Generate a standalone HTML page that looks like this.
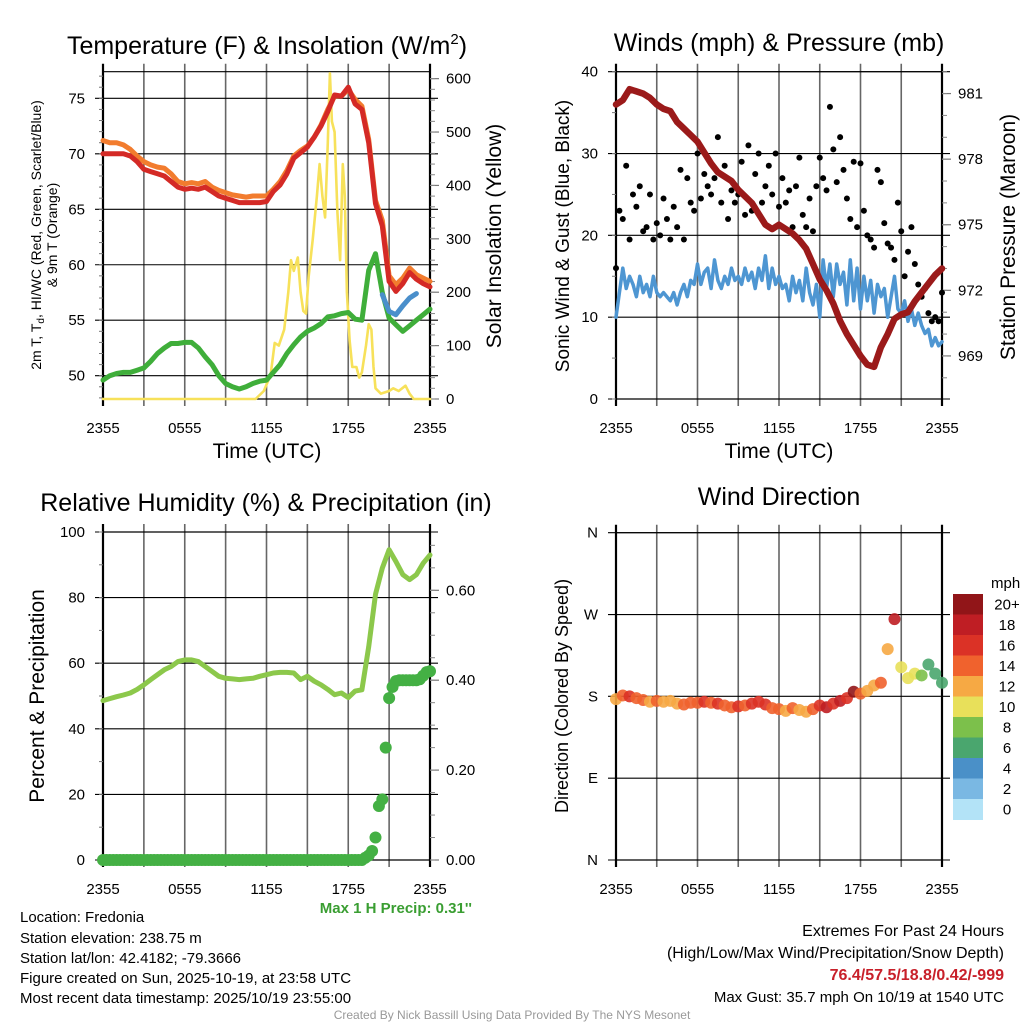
<!DOCTYPE html>
<html><head><meta charset="utf-8"><style>
html,body{margin:0;padding:0;background:#fff;}
svg{display:block;font-family:"Liberation Sans",sans-serif;}
</style></head><body>
<svg id="c" width="1024" height="1024" viewBox="0 0 1024 1024" xmlns="http://www.w3.org/2000/svg">
<rect width="1024" height="1024" fill="#fff"/>
<text x="267" y="54" font-size="25" text-anchor="middle">Temperature (F) &amp; Insolation (W/m<tspan dy="-10" font-size="15">2</tspan><tspan dy="10">)</tspan></text>
<text x="779" y="51" font-size="25" text-anchor="middle">Winds (mph) &amp; Pressure (mb)</text>
<text x="266" y="511" font-size="25" text-anchor="middle">Relative Humidity (%) &amp; Precipitation (in)</text>
<text x="779" y="505" font-size="25" text-anchor="middle">Wind Direction</text>
<text transform="translate(41,235) rotate(-90)" font-size="14" text-anchor="middle">2m T, T<tspan dy="3" font-size="10">d</tspan><tspan dy="-3">, HI/WC (Red, Green, Scarlet/Blue)</tspan></text>
<text transform="translate(57,235) rotate(-90)" font-size="14" text-anchor="middle">&amp; 9m T (Orange)</text>
<text transform="translate(501,236) rotate(-90)" font-size="21" text-anchor="middle">Solar Insolation (Yellow)</text>
<text x="267" y="458" font-size="21" text-anchor="middle">Time (UTC)</text>
<text x="779" y="458" font-size="21" text-anchor="middle">Time (UTC)</text>
<text transform="translate(569,236) rotate(-90)" font-size="19" text-anchor="middle">Sonic Wind &amp; Gust (Blue, Black)</text>
<text transform="translate(1015,237) rotate(-90)" font-size="21" text-anchor="middle">Station Pressure (Maroon)</text>
<text transform="translate(44,696) rotate(-90)" font-size="21" text-anchor="middle">Percent &amp; Precipitation</text>
<text transform="translate(568,696) rotate(-90)" font-size="18" text-anchor="middle">Direction (Colored By Speed)</text>
<text x="472" y="913" font-size="15" font-weight="bold" fill="#3a9e32" text-anchor="end">Max 1 H Precip: 0.31''</text>
<g font-size="15">
<text x="20" y="922">Location: Fredonia</text>
<text x="20" y="943">Station elevation: 238.75 m</text>
<text x="20" y="963">Station lat/lon: 42.4182; -79.3666</text>
<text x="20" y="983">Figure created on Sun, 2025-10-19, at 23:58 UTC</text>
<text x="20" y="1003">Most recent data timestamp: 2025/10/19 23:55:00</text>
</g>
<g font-size="16" text-anchor="end">
<text x="1004" y="936">Extremes For Past 24 Hours</text>
<text x="1004" y="958">(High/Low/Max Wind/Precipitation/Snow Depth)</text>
<text x="1004" y="980" font-weight="bold" fill="#c8202a">76.4/57.5/18.8/0.42/-999</text>
<text x="1004" y="1002" font-size="15">Max Gust: 35.7 mph On 10/19 at 1540 UTC</text>
</g>
<text x="512" y="1019" font-size="12" fill="#999" text-anchor="middle">Created By Nick Bassill Using Data Provided By The NYS Mesonet</text>
</svg>
<script>
// ---- data (30-min steps from 2355 UTC, hours 0..24) ----
const tempRed = [70,70,70,70,69.8,69.3,68.6,68.4,68.2,68,67.5,67,66.8,66.9,66.8,67,66.6,66.2,66,65.8,65.6,65.6,65.6,65.6,65.7,66.6,67.2,68.2,69.6,70.1,70.6,71.5,72.5,73.8,75.3,75.2,76,74.5,74,71,65.5,63.5,58.5,57.6,58.3,59.3,58.7,58.3,58];
const tempOrange = [71.2,71,71,70.8,70.4,69.8,69.3,69,68.8,68.7,68.2,67.5,67.3,67.4,67.3,67.5,67,66.7,66.5,66.3,66.2,66.1,66.2,66.2,66.2,66.8,67.5,68.5,69.8,70.3,70.7,71.5,72.6,74,75.2,75.2,75.8,74.9,74.3,71.3,65.8,64,59,58.2,58.8,59.7,59.1,58.8,58.5];
const dewGreen = [49.6,50,50.2,50.3,50.3,50.5,50.7,51.3,52,52.5,52.9,52.9,53,53,52.5,51.7,51,50,49.3,49,48.8,49,49.3,49.5,49.6,50.3,51,52,52.8,53.5,54,54.3,54.7,55.3,55.4,55.6,55.7,55.1,55,59.5,61,57.5,55.2,54.6,54,54.5,55,55.5,56];
const windChillBlue = [null,null,null,null,null,null,null,null,null,null,null,null,null,null,null,null,null,null,null,null,null,null,null,null,null,null,null,null,null,null,null,null,null,null,null,null,null,null,null,null,null,57.3,55.8,55.5,56.3,57,57.4,null,null];
const solarHours = [0,11.2,11.8,12.3,12.6,12.9,13.3,13.6,13.8,14.0,14.3,14.5,14.7,14.9,15.1,15.4,15.7,15.9,16.1,16.3,16.5,16.65,16.8,17.0,17.2,17.4,17.6,17.75,17.9,18.1,18.3,18.6,18.8,19.0,19.3,19.5,19.7,19.85,20.0,20.4,21.0,21.3,21.7,22.2,22.5,22.8,24];
const solarValues = [0,0,15,45,105,100,130,200,260,240,265,200,165,160,230,300,380,440,380,340,480,610,520,500,350,260,440,380,200,110,60,60,40,50,100,140,130,60,20,10,15,20,15,25,10,0,0];
// sonic wind every 15 min
const windSpeed = [10,13,16,13.5,15,14,12.5,15,13,14,12.5,15,
13,12.5,13,12.5,12,13,11.5,13,14,12.5,14.5,14,
16.5,14,15.5,16,13.5,17,14.5,13.5,15,14,16,14.5,
15,14,16,14.5,15.5,13.5,16,14.5,17.5,13.5,16,14,
15,13.5,14,12,15,13,14.5,12,16,13,11.5,14,
10,17,13.5,16.5,12.5,16.5,14,15.5,11.5,17,12,16,
11,15,12,14.5,10.5,14,12.5,13.5,10,12.5,15,11,
10.5,12,9.5,11,9,10.5,9,8,8.5,6.5,7.5,6.5,7];
const pressure = [980.5,980.7,981.2,981.1,981.0,980.8,980.5,980.3,980.2,979.7,979.4,979.1,978.8,978.3,977.8,977.4,977.2,977.0,976.6,976.3,976.0,975.5,975.0,974.8,975.0,974.8,974.6,974.3,973.9,973.2,972.5,972.0,971.4,970.6,970.0,969.5,969.0,968.6,968.5,969.4,970.0,970.7,970.9,971.0,971.5,971.9,972.3,972.7,973.0];
// gusts every 15 min
const gusts = [16,23,22,28.5,19.5,25,23.5,26,20.5,21,25,19.5,
21.5,20,24.5,22,19.5,23.5,21,28,19.5,27,24,23,
30,24.5,27.5,26,25,27,32,24,28.5,22,25.5,24,
25,29,22.5,31,23,27.5,30,24,26,28.5,25,30,
23.5,27,24,25.5,21,26,29.5,22.5,21,24.5,20.5,26,
29.5,27,25.5,35.7,30.5,26.5,32,28,24.5,22,29,21,
28.8,23,20,19.5,18.5,28,26.5,21.5,19,18.5,17,24,
20.5,15,18,21,16.5,14,12.5,13.5,10.5,9.5,10,9.5,13];
const humidity = [48.6,49.2,49.8,50.3,50.9,52,53.4,55,56.5,58,59,60.5,61,61,60.5,59,57.5,56,55.4,55.2,55,55.2,55.4,56,56.5,57,57.2,57.2,57,55,56,54.5,53.4,52,50.4,50.9,49.5,51.5,51.9,65,81,89,94.6,91,87,85.5,87,90.5,93];
// cumulative precip every 15 min
const precip = [0,0,0,0,0,0,0,0,0,0,0,0,0,0,0,0,0,0,0,0,0,0,0,0,0,0,0,0,0,0,0,0,0,0,0,0,0,0,0,0,0,0,0,0,0,0,0,0,0,0,0,0,0,0,0,0,0,0,0,0,0,0,0,0,0,0,0,0,0,0,0,0,0,0,0,0,0,
0.005,0.01,0.02,0.05,0.12,0.135,0.25,0.36,0.385,0.398,0.40,0.40,0.40,0.40,0.40,0.40,0.402,0.41,0.418,0.42];
const windDir = [177,181,180,178,176,174,175,174,175,172,171,173,173,174,173,172,170,168,169,170,172,174,171,167,166,164,167,165,163,166,170,168,172,175,178,185,183,186,192,195,232,265,212,200,205,203,215,205,195];
const dirSpeed = [12,14,17,15,14,13,14,12,13,12,14,14,15,17,15,16,14,15,16,15,16,17,17,14,15,13,15,12,13,14,17,19,17,18,16,20,15,12,13,14,12,18,11,10,10,9,7,6,7];
const timeTickLabels = ["2355","0555","1155","1755","2355"];
const speedBins = ["20+","18","16","14","12","10","8","6","4","2","0"];
const binColors = ["#911518","#bf1e24","#db3226","#f0622d","#f6a944","#e8e05a","#7cc04b","#4aa66e","#4a90c8","#7ab8e3","#b3e3f7"];

const NS="http://www.w3.org/2000/svg";
const svg=document.getElementById('c');
function mk(tag,attrs,parent){const e=document.createElementNS(NS,tag);for(const k in attrs)e.setAttribute(k,attrs[k]);(parent||svg).appendChild(e);return e;}
function lin(d0,d1,r0,r1){return v=>r0+(v-d0)*(r1-r0)/(d1-d0);}

function drawPanel(p){
  const g=mk('g',{});
  
  
  for(let h=0;h<=24;h+=3){
    const x=p.xs(h);
    const ln=mk('line',{x1:x,x2:x,y1:p.y0-8,y2:p.y1+7,stroke:(h===0||h===24)?'#000':'#666','stroke-width':(h===0||h===24)?2.2:1.6},g);
    
    
  }
  p.lTicks.forEach((v,i)=>{
    const y=p.yl(v);
    const ln=mk('line',{x1:p.x0-8,x2:p.x1+8,y1:y,y2:y,stroke:'#000','stroke-width':1.1},g);
    
    
    const t=mk('text',{x:p.x0-18,y:y+5,'font-size':15,'text-anchor':'end'},g);
    t.textContent=p.lLabels?p.lLabels[i]:v;
    
    
  });
  (p.lMinor||[]).forEach(v=>{const y=p.yl(v);mk('line',{x1:p.x0-4,x2:p.x0,y1:y,y2:y,stroke:'#777','stroke-width':1},g);});
  mk('line',{x1:p.x0,x2:p.x1,y1:p.y0,y2:p.y0,stroke:'#000','stroke-width':1.2},g);
  mk('line',{x1:p.x0,x2:p.x1,y1:p.y1,y2:p.y1,stroke:'#000','stroke-width':1.2},g);
  if(p.rTicks){
    p.rTicks.forEach((v,i)=>{
      const y=p.yr(v);
      mk('line',{x1:p.x1,x2:p.x1+9,y1:y,y2:y,stroke:'#777','stroke-width':1.2},g);
      const t=mk('text',{x:p.x1+16,y:y+5,'font-size':15},g);
      t.textContent=p.rLabels[i];
      
      
    });
    (p.rMinor||[]).forEach(v=>{const y=p.yr(v);mk('line',{x1:p.x1,x2:p.x1+5,y1:y,y2:y,stroke:'#888','stroke-width':1},g);});
  }
  if(p.xLabels){
    [0,6,12,18,24].forEach((h,i)=>{
      const t=mk('text',{x:p.xs(h),y:p.y1+34,'font-size':15,'text-anchor':'middle'},g);
      t.textContent=timeTickLabels[i];
      
      
    });
  }
}
function polyline(pts,color,w,name){
  let d='',pen=false;
  pts.forEach(([x,y])=>{ if(y===null||isNaN(y)){pen=false;return;} d+=(pen?'L':'M')+x.toFixed(1)+' '+y.toFixed(1); pen=true; });
  const e=mk('path',{d:d,fill:'none',stroke:color,'stroke-width':w,'stroke-linejoin':'round','stroke-linecap':'round'});
  
  
  return e;
}
function range(a,b,s){const r=[];for(let v=a;v<=b+1e-9;v+=s)r.push(+v.toFixed(4));return r;}

// ---------- Panel TL ----------
const tl={name:'temperature',x0:103,x1:430,y0:71.7,y1:399};
tl.xs=lin(0,24,tl.x0,tl.x1); tl.yl=lin(47.9,77.4,tl.y1,tl.y0); tl.yr=lin(0,613,tl.y1,tl.y0);
tl.lTicks=[50,55,60,65,70,75]; tl.lMinor=range(48,77,1);
tl.rTicks=[0,100,200,300,400,500,600]; tl.rLabels=tl.rTicks.map(String); tl.rMinor=range(0,600,20); tl.xLabels=true;
drawPanel(tl);
const hx=i=>i*0.5;
polyline(solarHours.map((h,i)=>[tl.xs(h),tl.yr(solarValues[i])]),'#f7e15a',2.6,'solar-insolation-line');
polyline(dewGreen.map((v,i)=>[tl.xs(hx(i)),tl.yl(v)]),'#3fae3a',5,'dewpoint-line');
polyline(tempOrange.map((v,i)=>[tl.xs(hx(i)),tl.yl(v)]),'#f27c2e',5,'temp-9m-line');
polyline(tempRed.map((v,i)=>[tl.xs(hx(i)),tl.yl(v)]),'#d42a26',5,'temp-2m-line');
polyline(windChillBlue.map((v,i)=>[tl.xs(hx(i)),v===null?null:tl.yl(v)]),'#4a8fcb',5,'windchill-line');

// ---------- Panel TR ----------
const tr={name:'winds',x0:616,x1:942,y0:71.7,y1:399};
tr.xs=lin(0,24,tr.x0,tr.x1); tr.yl=lin(0,40,tr.y1,tr.y0); tr.yr=lin(967.03,982.0,tr.y1,tr.y0);
tr.lTicks=[0,10,20,30,40]; tr.lMinor=range(0,40,5);
tr.rTicks=[969,972,975,978,981]; tr.rLabels=tr.rTicks.map(String); tr.rMinor=range(968,982,1); tr.xLabels=true;
drawPanel(tr);
polyline(windSpeed.map((v,i)=>[tr.xs(i*0.25),tr.yl(v)]),'#4e96d2',3.5,'sonic-wind-line');
gusts.forEach((v,i)=>{
  const c=mk('circle',{cx:tr.xs(i*0.25),cy:tr.yl(v),r:3,fill:'#000'});
  
  
});
polyline(pressure.map((v,i)=>[tr.xs(hx(i)),tr.yr(v)]),'#9b1a1a',6.5,'pressure-line');

// ---------- Panel BL ----------
const bl={name:'humidity',x0:103,x1:430,y0:532,y1:860};
bl.xs=lin(0,24,bl.x0,bl.x1); bl.yl=lin(0,100,bl.y1,bl.y0); bl.yr=lin(0,0.7297,bl.y1,bl.y0);
bl.lTicks=[0,20,40,60,80,100]; bl.lMinor=range(0,100,10);
bl.rTicks=[0,0.2,0.4,0.6]; bl.rLabels=["0.00","0.20","0.40","0.60"]; bl.rMinor=range(0,0.7,0.05); bl.xLabels=true;
drawPanel(bl);
polyline(humidity.map((v,i)=>[bl.xs(hx(i)),bl.yl(v)]),'#8cc84b',5,'humidity-line');
precip.forEach((v,i)=>{
  const c=mk('circle',{cx:bl.xs(i*0.25),cy:bl.yr(v),r:6,fill:'#44b044'});
  
  
});

// ---------- Panel BR ----------
const br={name:'direction',x0:616,x1:942,y0:532.7,y1:860};
br.xs=lin(0,24,br.x0,br.x1); br.yl=lin(0,360,br.y1,br.y0);
br.lTicks=[0,90,180,270,360]; br.lLabels=["N","E","S","W","N"]; br.xLabels=true;
drawPanel(br);
function speedColor(s){const idx=Math.min(10,Math.floor(s/2));return binColors[10-idx];}
windDir.forEach((v,i)=>{
  const c=mk('circle',{cx:br.xs(hx(i)),cy:br.yl(v),r:6,fill:speedColor(dirSpeed[i]),'fill-opacity':0.9});
  
  
});
const cbTop=594,cbH=20.5;
const mph=mk('text',{x:991,y:588,'font-size':15});
mph.textContent='mph';


speedBins.forEach((lab,i)=>{
  const r=mk('rect',{x:953,y:cbTop+i*cbH,width:30,height:cbH+0.5,fill:binColors[i]});
  
  
  const t=mk('text',{x:1007,y:cbTop+i*cbH+cbH/2+5,'font-size':15,'text-anchor':'middle'});
  t.textContent=lab;
  
  
});
</script>
</body></html>
